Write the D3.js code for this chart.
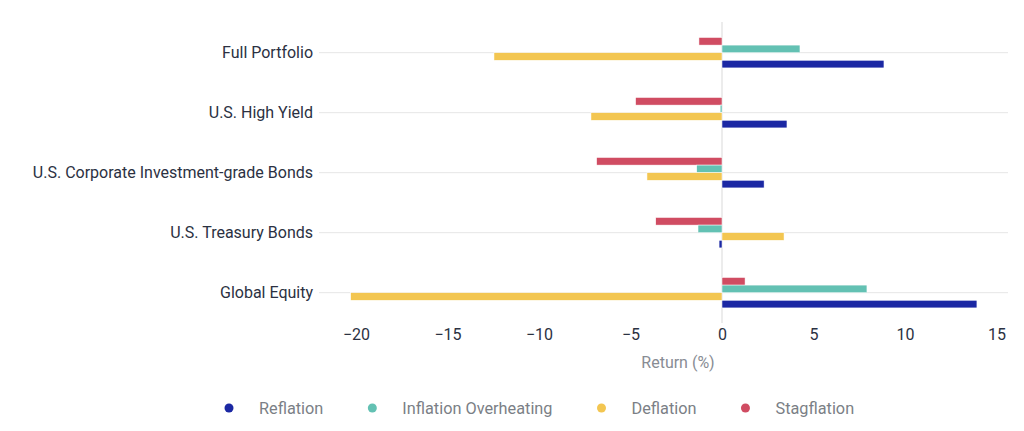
<!DOCTYPE html>
<html>
<head>
<meta charset="utf-8">
<script src="https://cdn.jsdelivr.net/npm/d3@7"></script>
<style>
  body { margin: 0; background: #fff; }
  svg { font-family: Roboto, "Noto Sans", sans-serif; }
</style>
</head>
<body>
<script>
/***** data *******/
var categories = ["Full Portfolio", "U.S. High Yield", "U.S. Corporate Investment-grade Bonds", "U.S. Treasury Bonds", "Global Equity"];
var seriesNames = ["Stagflation", "Inflation Overheating", "Deflation", "Reflation"];
var stagflation = [-1.26, -4.72, -6.85, -3.62, 1.26];
var inflationOverheating = [4.26, -0.1, -1.38, -1.31, 7.92];
var deflation = [-12.46, -7.16, -4.1, 3.39, -20.29];
var reflation = [8.85, 3.55, 2.3, -0.16, 13.93];
var tickValues = [-20, -15, -10, -5, 0, 5, 10, 15];
var legendOrder = ["Reflation", "Inflation Overheating", "Deflation", "Stagflation"];

var colors = {
    "Reflation": "#1b28a3",
    "Inflation Overheating": "#63c1b3",
    "Deflation": "#f3c651",
    "Stagflation": "#d04c62"
};
var values = {
    "Stagflation": stagflation,
    "Inflation Overheating": inflationOverheating,
    "Deflation": deflation,
    "Reflation": reflation
};

/***** setup *******/
var width = 1024,
    height = 431;

var svg = d3.select("body").append("svg")
    .attr("width", width)
    .attr("height", height);

var x = d3.scaleLinear()
    .domain([-20, 15])
    .range([356, 996.5]);

var y = d3.scaleBand()
    .domain(categories)
    .range([22.7, 322.7])
    .paddingInner(0.493)
    .paddingOuter(0.2465);

var ySub = d3.scaleBand()
    .domain(seriesNames)
    .range([0, y.bandwidth()]);

// horizontal grid lines through each category
svg.append("g")
    .selectAll("line")
    .data(categories)
    .enter()
    .append("line")
    .attr("x1", 319)
    .attr("x2", 1008)
    .attr("y1", function(d) { return y(d) + y.bandwidth() / 2; })
    .attr("y2", function(d) { return y(d) + y.bandwidth() / 2; })
    .style("stroke", "#e6e6e6")
    .style("stroke-width", 1);

// zero line
svg.append("line")
    .attr("x1", x(0)).attr("x2", x(0))
    .attr("y1", 22).attr("y2", 323)
    .style("stroke", "#e6e6e6")
    .style("stroke-width", 1.5);

// bars
var rows = [];
categories.forEach(function(c, i) {
    seriesNames.forEach(function(s) {
        rows.push({cat: c, series: s, value: values[s][i]});
    });
});

svg.append("g")
    .selectAll("rect")
    .data(rows)
    .enter()
    .append("rect")
    .attr("x", function(d) { return x(Math.min(0, d.value)); })
    .attr("width", function(d) { return Math.abs(x(d.value) - x(0)); })
    .attr("y", function(d) { return y(d.cat) + ySub(d.series); })
    .attr("height", ySub.bandwidth())
    .style("fill", function(d) { return colors[d.series]; })
    .style("stroke", "#fff")
    .style("stroke-width", 0.5);

// category labels
svg.append("g")
    .selectAll("text")
    .data(categories)
    .enter()
    .append("text")
    .attr("x", 313)
    .attr("y", function(d) { return y(d) + y.bandwidth() / 2; })
    .attr("dy", "0.35em")
    .attr("text-anchor", "end")
    .style("font-size", "16px")
    .style("fill", "#2b3142")
    .text(function(d) { return d; });

// x axis
var xAxis = svg.append("g")
    .attr("transform", "translate(0,329)")
    .call(d3.axisBottom(x).tickValues(tickValues).tickSize(0).tickPadding(0));
xAxis.select(".domain").remove();
xAxis.selectAll("text")
    .attr("dy", "0.71em")
    .style("font-family", "Roboto, sans-serif")
    .style("font-size", "16px")
    .style("fill", "#2b3142");

svg.append("text")
    .attr("x", 678)
    .attr("y", 368)
    .attr("text-anchor", "middle")
    .style("font-size", "16px")
    .style("fill", "#888c94")
    .text("Return (%)");

// legend
var lx = 229;
legendOrder.forEach(function(name) {
    svg.append("circle")
        .attr("cx", lx)
        .attr("cy", 408)
        .attr("r", 4.5)
        .style("fill", colors[name]);
    var t = svg.append("text")
        .attr("x", lx + 30)
        .attr("y", 408)
        .attr("dy", "0.35em")
        .style("font-size", "16.3px")
        .style("fill", "#7b7f86")
        .text(name);
    lx = lx + 30 + t.node().getComputedTextLength() + 49;
});
</script>
</body>
</html>
